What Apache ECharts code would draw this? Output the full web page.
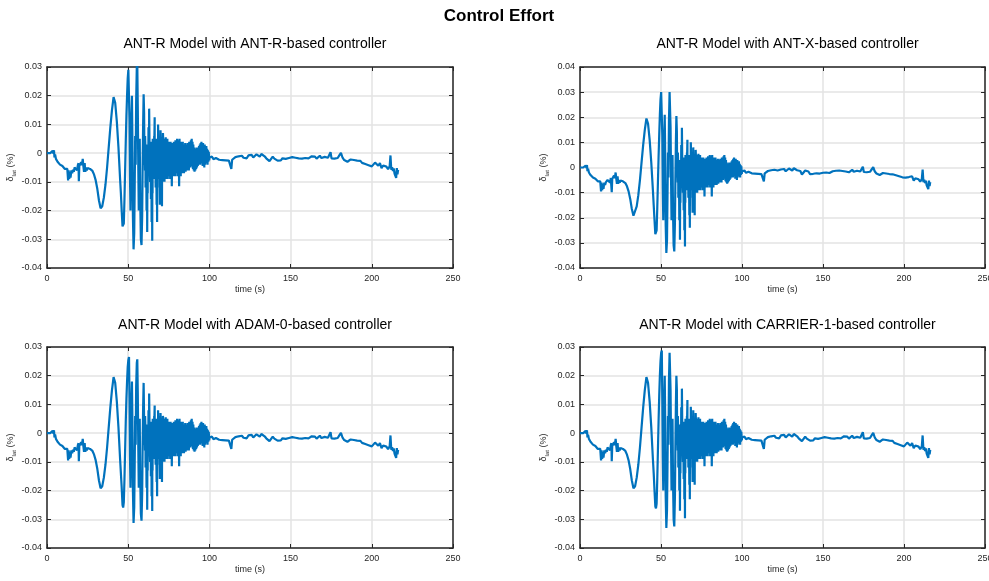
<!DOCTYPE html>
<html>
<head>
<meta charset="utf-8">
<title>Control Effort</title>
<script src="https://cdn.jsdelivr.net/npm/echarts@6/dist/echarts.min.js"></script>
<style>
  html, body { margin: 0; padding: 0; background: #ffffff; }
  #chart { width: 989px; height: 581px; }
</style>
</head>
<body>
<div id="chart"></div>
<script>
// Lateral control effort δ_lat (%) over time for four controllers.

const panelTitles = [
  'ANT-R Model with ANT-R-based controller',
  'ANT-R Model with ANT-X-based controller',
  'ANT-R Model with ADAM-0-based controller',
  'ANT-R Model with CARRIER-1-based controller'
];
const xTicks = { min: 0, max: 250, step: 50 };
const yRanges = [
  { min: -0.04, max: 0.03 },
  { min: -0.04, max: 0.04 },
  { min: -0.04, max: 0.03 },
  { min: -0.04, max: 0.03 }
];

// Pre-manoeuvre drift, t = 0 .. 45 s  [time, value]
const leadSeg = [
  [0,0],[1,0],[2,0],[3,0],[3.5,0.0008],[4,-0.0002],[4.3,0.001],[4.6,-0.0015],[5,-0.0005],[5.5,-0.002],
  [6,-0.0025],[6.5,-0.003],[7,-0.0035],[7.5,-0.0032],[8,-0.004],[8.5,-0.0038],[9,-0.0045],[9.5,-0.0045],
  [10,-0.005],[10.5,-0.0048],[11,-0.0055],[11.5,-0.0055],[12,-0.0058],[12.5,-0.0055],[13,-0.0095],
  [13.3,-0.006],[13.7,-0.009],[14,-0.0065],[14.5,-0.0085],[15,-0.006],[15.5,-0.007],[16,-0.0058],
  [16.5,-0.0065],[17,-0.005],[17.5,-0.0055],[18,-0.0045],[18.5,-0.006],[19,-0.0042],[19.4,-0.0035],
  [19.6,-0.0098],[19.9,-0.0045],[20.5,-0.004],[21,-0.0032],[21.5,-0.0042],[22,-0.002],[22.4,-0.0045],
  [22.8,-0.0065],[23.2,-0.0035],[23.6,-0.0065],[24,-0.005],[24.5,-0.006],[25,-0.0052],[25.5,-0.0058],
  [26,-0.005],[26.5,-0.0055],[27,-0.006],[27.5,-0.0058],[28,-0.0062],[28.5,-0.0065],[29,-0.0075],
  [30,-0.0095],[31,-0.0125],[32,-0.0165],[33,-0.0192],[33.5,-0.0197],[34,-0.0185],[35,-0.0155],
  [36,-0.011],[37,-0.005],[38,0.002],[39,0.009],[40,0.015],[41,0.0195],[41.5,0.019],[42,0.0175],
  [43,0.011],[44,0.002],[45,-0.009]
];

// Large oscillation phase, t = 45.5 .. 71.7 s (one value list per controller)
const burstT = [
  45.5,46,46.5,46.9,47.3,47.7,48.1,48.5,48.9,49.3,
  49.7,50.1,50.5,50.8,51.1,51.4,51.7,52.0,52.3,52.6,
  52.9,53.3,53.7,54.0,54.3,54.6,54.9,55.3,55.6,55.9,
  56.2,56.5,56.8,57.1,57.4,57.8,58.2,58.6,58.9,59.2,
  59.5,59.8,60.0,60.4,60.7,61.0,61.3,61.7,62.0,62.3,
  62.5,62.9,63.2,63.5,63.8,64.0,64.4,64.8,65.0,65.4,
  65.7,66.0,66.3,66.5,66.9,67.2,67.5,67.8,68.0,68.4,
  68.7,69.0,69.3,69.5,69.9,70.2,70.5,70.8,71.0,71.4,
  71.7
];
const burstAntR = [
  -0.014,-0.02,-0.0255,-0.026,-0.0245,-0.016,-0.006,0.004,0.013,0.02,
  0.026,0.029,0.0285,0.012,-0.008,-0.02,-0.006,0.012,0.02,0.004,
  -0.022,-0.0335,-0.028,-0.012,0.006,-0.004,0.018,0.03,0.031,0.016,
  -0.004,-0.02,-0.008,0.005,-0.016,-0.03,-0.032,-0.022,-0.004,0.01,
  0.0205,0.014,-0.004,0.006,-0.012,0.003,-0.02,-0.0275,-0.014,0.002,
  0.009,0.0155,0.004,-0.01,0.003,-0.016,-0.024,-0.0305,-0.014,0.004,
  -0.006,0.006,0.0125,-0.002,-0.012,0.003,-0.018,-0.024,-0.006,0.01,
  -0.004,0.006,-0.012,-0.018,0.008,-0.006,0.004,-0.0185,-0.004,0.007,
  -0.008
];
const burstAntX = [
  -0.015,-0.021,-0.0265,-0.0268,-0.025,-0.016,-0.006,0.004,0.013,0.021,
  0.027,0.03,0.03,0.013,-0.008,-0.021,-0.006,0.012,0.021,0.004,
  -0.023,-0.034,-0.029,-0.012,0.006,-0.004,0.018,0.03,0.0305,0.016,
  -0.004,-0.021,-0.008,0.005,-0.017,-0.031,-0.0334,-0.022,-0.004,0.01,
  0.0205,0.014,-0.004,0.006,-0.012,0.003,-0.021,-0.0288,-0.014,0.002,
  0.009,0.0158,0.004,-0.01,0.003,-0.017,-0.025,-0.0314,-0.014,0.004,
  -0.006,0.006,0.011,-0.002,-0.012,0.003,-0.019,-0.024,-0.006,0.01,
  -0.004,0.006,-0.012,-0.018,0.008,-0.006,0.004,-0.019,-0.004,0.007,
  -0.008
];
const burstAdam0 = [
  -0.014,-0.019,-0.025,-0.0259,-0.024,-0.016,-0.006,0.004,0.012,0.018,
  0.023,0.0255,0.0265,0.012,-0.008,-0.019,-0.006,0.011,0.018,0.004,
  -0.02,-0.0313,-0.026,-0.011,0.006,-0.004,0.016,0.0245,0.0257,0.014,
  -0.004,-0.019,-0.008,0.005,-0.015,-0.028,-0.0305,-0.021,-0.004,0.009,
  0.0175,0.0179,-0.004,0.006,-0.012,0.003,-0.019,-0.0267,-0.013,0.002,
  0.008,0.0138,0.004,-0.01,0.003,-0.015,-0.022,-0.0271,-0.013,0.004,
  -0.006,0.006,0.0096,-0.002,-0.011,0.003,-0.017,-0.022,-0.006,0.008,
  -0.004,0.006,-0.011,-0.016,0.007,-0.006,0.004,-0.017,-0.004,0.006,
  -0.008
];
const burstCarrier1 = [
  -0.014,-0.02,-0.0255,-0.0262,-0.0245,-0.016,-0.006,0.004,0.013,0.02,
  0.025,0.028,0.0288,0.012,-0.008,-0.02,-0.006,0.012,0.02,0.004,
  -0.022,-0.033,-0.027,-0.012,0.006,-0.004,0.018,0.028,0.0285,0.015,
  -0.004,-0.02,-0.008,0.005,-0.016,-0.03,-0.0325,-0.022,-0.004,0.01,
  0.02,0.015,-0.004,0.006,-0.012,0.003,-0.02,-0.027,-0.014,0.002,
  0.009,0.0155,0.004,-0.01,0.003,-0.016,-0.023,-0.0296,-0.014,0.004,
  -0.006,0.006,0.0115,-0.002,-0.012,0.003,-0.018,-0.023,-0.006,0.0092,
  -0.004,0.006,-0.012,-0.017,0.008,-0.006,0.004,-0.018,-0.004,0.007,
  -0.008
];

// Fast chatter riding on the oscillation, t = 60 .. 100 s  [time, value]
const chatter = [
  [60.1,0.003],[60.35,-0.006],[60.6,0.002],[60.85,-0.005],[61.1,0.003],[61.35,-0.006],[61.6,0.001],[61.85,-0.005],
  [62.1,0.003],[62.35,-0.007],[62.6,0.002],[62.85,-0.006],[63.1,0.004],[63.35,-0.007],[63.6,0.002],[63.85,-0.006],
  [64.1,0.004],[64.35,-0.008],[64.6,0.003],[64.85,-0.007],[65.1,0.005],[65.35,-0.009],[65.6,0.003],[65.85,-0.007],
  [66.1,0.004],[66.35,-0.009],[66.6,0.002],[66.85,-0.008],[67.1,0.005],[67.35,-0.009],[67.6,0.003],[67.85,-0.007],
  [68.1,0.004],[68.35,-0.009],[68.6,0.004],[68.85,-0.007],[69.1,0.003],[69.35,-0.009],[69.6,0.005],[69.85,-0.008],
  [70.1,0.004],[70.35,-0.009],[70.6,0.003],[70.85,-0.007],[71.1,0.005],[71.35,-0.01],[71.6,0.004],[71.85,-0.008],
  [72.1,0.005],[72.35,-0.01],[72.6,0.003],[72.85,-0.008],[73.1,0.0055],[73.35,-0.009],[73.6,0.004],[73.85,-0.007],
  [74.1,0.005],[74.35,-0.009],[74.6,0.002],[74.85,-0.008],[75.1,0.004],[75.35,-0.007],[75.6,0.003],[75.85,-0.009],
  [76.1,0.004],[76.35,-0.006],[76.6,0.002],[76.85,-0.0115],[77.1,0.0035],[77.35,-0.007],[77.6,0.003],[77.85,-0.008],
  [78.1,0.004],[78.35,-0.006],[78.6,0.002],[78.85,-0.008],[79.1,0.0045],[79.35,-0.007],[79.6,0.003],[79.85,-0.006],
  [80.1,0.005],[80.35,-0.008],[80.6,0.003],[80.85,-0.006],[81.1,0.0045],[81.35,-0.0115],[81.6,0.005],[81.85,-0.006],
  [82.1,0.003],[82.35,-0.008],[82.6,0.004],[82.85,-0.006],[83.1,0.0025],[83.35,-0.007],[83.6,0.004],[83.85,-0.005],
  [84.1,0.003],[84.35,-0.007],[84.6,0.002],[84.85,-0.006],[85.1,0.0035],[85.35,-0.0065],[85.6,0.002],[85.85,-0.005],
  [86.1,0.003],[86.35,-0.006],[86.6,0.0035],[86.85,-0.005],[87.1,0.002],[87.35,-0.006],[87.6,0.004],[87.85,-0.0045],
  [88.1,0.004],[88.35,-0.005],[88.6,0.0045],[88.85,-0.004],[89.1,0.005],[89.35,-0.0045],[89.6,0.004],[89.85,-0.0055],
  [90.1,0.003],[90.35,-0.006],[90.6,0.002],[90.85,-0.0065],[91.1,0.0015],[91.35,-0.006],[91.6,0.001],[91.85,-0.0055],
  [92.1,0.002],[92.35,-0.005],[92.6,0.0015],[92.85,-0.0045],[93.1,0.002],[93.35,-0.004],[93.6,0.0025],[93.85,-0.0035],
  [94.1,0.003],[94.35,-0.004],[94.6,0.0035],[94.85,-0.0035],[95.1,0.004],[95.35,-0.003],[95.6,0.003],[95.85,-0.0045],
  [96.1,0.0035],[96.35,-0.004],[96.6,0.0025],[96.85,-0.005],[97.1,0.003],[97.35,-0.004],[97.6,0.002],[97.85,-0.0035],
  [98.1,0.0025],[98.35,-0.003],[98.6,0.0015],[98.85,-0.004],[99.1,0.001],[99.35,-0.003],[99.6,0.0005],[99.85,-0.0025],
  [100.1,-0.0015]
];

// Settled hold, t = 101 .. 216 s  [time, value]
const tailSeg = [
  [101,-0.0018],[101.5,-0.0012],[102,-0.0015],[102.5,-0.0021],[103,-0.0022],[104,-0.0017],[104.5,-0.0023],
  [105,-0.002],[106,-0.0023],[106.5,-0.0017],[107,-0.0019],[108,-0.0024],[108.5,-0.0019],[109,-0.002],
  [110,-0.0025],[110.5,-0.002],[111,-0.0022],[112,-0.0026],[112.5,-0.002],[113,-0.0021],[113.5,-0.0055],
  [114,-0.0023],[115,-0.0018],[116,-0.0014],[117,-0.0017],[118,-0.0011],[119,-0.0015],[120,-0.0009],
  [121,-0.0016],[122,-0.0012],[123,-0.0018],[124,-0.0008],[125,-0.0013],[126,-0.0006],[127,-0.0015],
  [128,-0.0009],[129,-0.0004],[130,-0.0001],[131,-0.0012],[132,-0.0003],[133,0.0002],[134,-0.0011],
  [135,-0.0018],[136,-0.0014],[137,-0.0028],[138,-0.0022],[139,-0.0012],[140,-0.0019],[141,-0.0016],
  [142,-0.0026],[143,-0.0021],[144,-0.0025],[145,-0.0018],[146,-0.0023],[147,-0.002],[148,-0.0024],
  [149,-0.0017],[150,-0.0021],[151,-0.0014],[152,-0.002],[153,-0.0016],[154,-0.0022],[155,-0.0018],
  [156,-0.0015],[157,-0.0019],[158,-0.0013],[159,-0.0017],[160,-0.0012],[161,-0.0018],[162,-0.0014],
  [163,-0.0011],[164,-0.0016],[165,-0.0012],[166,-0.0019],[167,-0.0014],[168,-0.0009],[169,-0.0017],
  [170,-0.0021],[171,-0.0013],[172,-0.0008],[173,-0.0016],[174,-0.0022],[174.6,0.0003],[175.2,-0.0018],
  [176,-0.0012],[177,-0.0019],[178,-0.0013],[179,-0.0017],[180,-0.0008],[181,0.0001],[182,-0.0016],
  [183,-0.0024],[184,-0.0021],[185,-0.003],[186,-0.0026],[187,-0.0022],[188,-0.0028],[189,-0.0024],
  [190,-0.0021],[191,-0.0026],[192,-0.003],[193,-0.0027],[194,-0.0034],[195,-0.0031],[196,-0.0038],
  [197,-0.0035],[198,-0.0042],[199,-0.0039],[200,-0.0046],[201,-0.004],[202,-0.0033],[203,-0.0038],
  [204,-0.0044],[205,-0.0035],[206,-0.0052],[207,-0.0043],[208,-0.0039],[209,-0.0047],[210,-0.0056],
  [211,-0.0046],[211.5,-0.0008],[212,-0.0058],[212.5,-0.0049],[213,-0.0062],[213.5,-0.0053],
  [214,-0.0071],[214.5,-0.0065],[215,-0.0086],[215.4,-0.0052],[215.8,-0.0074],[216.2,-0.0058]
];

const bursts = [burstAntR, burstAntX, burstAdam0, burstCarrier1];

// lead + (oscillation merged with chatter, in time order) + tail
function buildTrace(burst) {
  const mid = burstT.map((t, i) => [t, burst[i]]).concat(chatter);
  mid.sort((a, b) => a[0] - b[0]);
  return [].concat(leadSeg, mid, tailSeg);
}

// ---- layout / style ----
const FONT = '"Liberation Sans", Arial, Helvetica, sans-serif';
const INK = '#262626';
const LINE = '#0072BD';
const GRID_LINE = '#e3e3e3';
const boxes = [
  { left: 47, top: 67, width: 406, height: 201 },
  { left: 580, top: 67, width: 405, height: 201 },
  { left: 47, top: 347, width: 406, height: 201 },
  { left: 580, top: 347, width: 405, height: 201 }
];

function fmtY(v) {
  const r = Math.round(v * 100) / 100;
  return r === 0 ? '0' : String(r);
}
function axLine() {
  return { show: true, onZero: false, lineStyle: { color: INK, width: 1.5 } };
}
function tick() {
  return { show: true, inside: true, length: 4, lineStyle: { color: INK, width: 1 } };
}

const option = {
  animation: false,
  backgroundColor: '#ffffff',
  title: [
    { text: 'Control Effort', left: 494, top: 3, textAlign: 'center',
      textStyle: { fontFamily: FONT, fontSize: 17, fontWeight: 'bold', color: '#000' } }
  ],
  grid: [],
  xAxis: [],
  yAxis: [],
  series: []
};

boxes.forEach((b, k) => {
  option.title.push({
    text: panelTitles[k],
    left: b.left + b.width / 2,
    top: k < 2 ? 32 : 313,
    textAlign: 'center',
    textStyle: { fontFamily: FONT, fontSize: 14, fontWeight: 'normal', color: '#000' }
  });
  option.grid.push({
    left: b.left, top: b.top, width: b.width, height: b.height,
    containLabel: false, outerBoundsMode: 'none'
  });

  const yr = yRanges[k];

  // bottom x axis
  option.xAxis.push({
    type: 'value', gridIndex: k, position: 'bottom',
    min: xTicks.min, max: xTicks.max, interval: xTicks.step,
    name: 'time (s)', nameLocation: 'middle', nameGap: 17,
    nameTextStyle: { fontFamily: FONT, fontSize: 9, color: INK },
    axisLine: axLine(), axisTick: tick(),
    axisLabel: { fontFamily: FONT, fontSize: 9, color: INK, margin: 6, hideOverlap: false },
    splitLine: { show: true, lineStyle: { color: GRID_LINE, width: 1.5 } }
  });
  // top x axis (box edge)
  option.xAxis.push({
    type: 'value', gridIndex: k, position: 'top',
    min: xTicks.min, max: xTicks.max, interval: xTicks.step,
    axisLine: axLine(), axisTick: tick(), axisLabel: { show: false }, splitLine: { show: false }
  });
  // left y axis
  option.yAxis.push({
    type: 'value', gridIndex: k, position: 'left',
    min: yr.min, max: yr.max, interval: 0.01,
    name: '{d|δ}{s|lat}{d| (%)}', nameLocation: 'middle', nameGap: 27,
    nameTextStyle: {
      fontFamily: FONT, color: INK,
      rich: {
        d: { fontFamily: FONT, fontSize: 9, color: INK, lineHeight: 14 },
        s: { fontFamily: FONT, fontSize: 6, color: INK, verticalAlign: 'bottom', lineHeight: 8 }
      }
    },
    axisLine: axLine(), axisTick: tick(),
    axisLabel: { fontFamily: FONT, fontSize: 9, color: INK, margin: 5, formatter: fmtY },
    splitLine: { show: true, lineStyle: { color: GRID_LINE, width: 1.5 } }
  });
  // right y axis (box edge)
  option.yAxis.push({
    type: 'value', gridIndex: k, position: 'right',
    min: yr.min, max: yr.max, interval: 0.01,
    axisLine: axLine(), axisTick: tick(), axisLabel: { show: false }, splitLine: { show: false }
  });

  option.series.push({
    type: 'line',
    xAxisIndex: 2 * k, yAxisIndex: 2 * k,
    data: buildTrace(bursts[k]),
    showSymbol: false, symbol: 'none',
    lineStyle: { color: LINE, width: 2.2 },
    z: 1
  });
});

const chart = echarts.init(document.getElementById('chart'), null, { renderer: 'canvas' });
chart.setOption(option);
</script>
</body>
</html>
